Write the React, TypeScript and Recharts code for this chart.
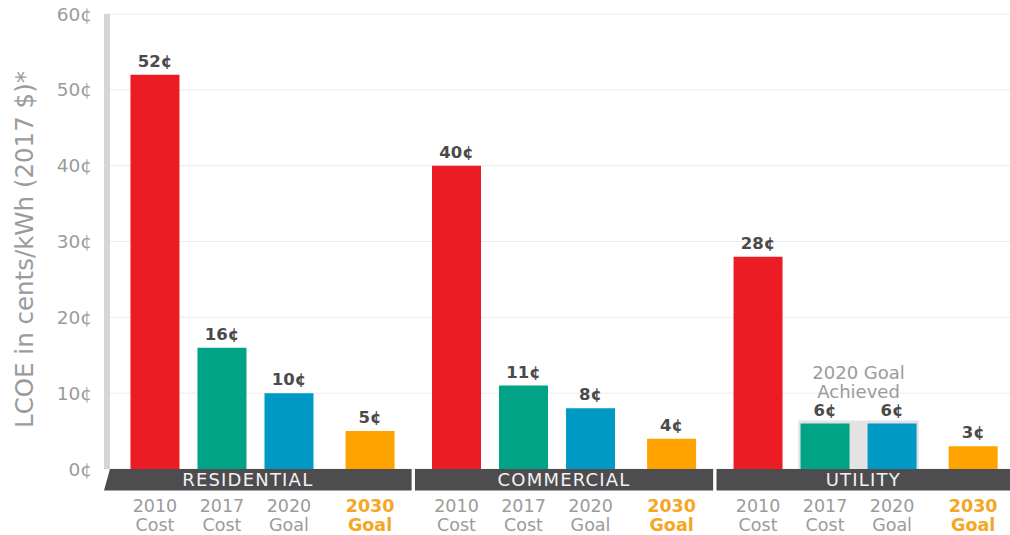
import * as React from "react";
import {
  BarChart,
  Bar,
  XAxis,
  YAxis,
  CartesianGrid,
  Cell,
  LabelList,
  ReferenceArea,
} from "recharts";

const groups = ["RESIDENTIAL", "COMMERCIAL", "UTILITY"];
const barYears = ["2010", "2017", "2020", "2030"];
const barKinds = ["Cost", "Cost", "Goal", "Goal"];
const residential = [52, 16, 10, 5];
const commercial = [40, 11, 8, 4];
const utility = [28, 6, 6, 3];
const yTicks = [0, 10, 20, 30, 40, 50, 60];

const COLORS = ["#ec1c24", "#00a386", "#0099c6", "#ffa300"];
const FONT = "'DejaVu Sans', sans-serif";
const GRAY = "#9b9b9b";

// slot layout: three bars side by side, the 2030 goal a bit apart
const SLOT = [0, 1, 2, 3.21];
const GROUP_STEP = 4.5;
const X_MIN = -0.716;
const X_MAX = 12.76;
const BAND_DEPTH = -2.85; // dark category band sits just under the zero line

const series = [residential, commercial, utility];
const data = series.flatMap((vals, gi) =>
  vals.map((v, i) => ({
    x: gi * GROUP_STEP + SLOT[i],
    value: v,
    slot: i,
    group: groups[gi],
  }))
);

const groupSpans = groups.map((g, gi) => {
  const gap = (GROUP_STEP - SLOT[3]) / 2;
  const start = gi === 0 ? X_MIN - 0.045 : gi * GROUP_STEP - gap + 0.025;
  const end = gi === groups.length - 1 ? X_MAX : gi * GROUP_STEP + SLOT[3] + gap - 0.025;
  return { name: g, start, end, labelDx: gi === 0 ? -10 : 0, slant: gi === 0 };
});

function XTick({ x, y, payload }: any) {
  const d = data.find((e) => Math.abs(e.x - payload.value) < 1e-6);
  if (!d) return null;
  const goal = d.slot === 3;
  return (
    <text
      x={x}
      y={y}
      textAnchor="middle"
      fontFamily={FONT}
      fontSize={17.5}
      fill={goal ? "#f5a623" : GRAY}
      fontWeight={goal ? 700 : 400}
    >
      <tspan x={x} dy={41}>
        {barYears[d.slot]}
      </tspan>
      <tspan x={x} dy={18.5}>
        {barKinds[d.slot]}
      </tspan>
    </text>
  );
}

function bandShape(name: string, dx: number, slant: boolean) {
  return (p: any) => {
    const { x, y, width, height } = p;
    const d = slant
      ? `M${x + 6},${y} L${x + width},${y} L${x + width},${y + height} L${x},${y + height} Z`
      : `M${x},${y} L${x + width},${y} L${x + width},${y + height} L${x},${y + height} Z`;
    return (
      <g>
        <path d={d} fill="#4d4d4f" />
        <text
          x={x + width / 2 + dx}
          y={y + height / 2 + 6.5}
          textAnchor="middle"
          fontFamily={FONT}
          fontSize={18}
          letterSpacing={1.2}
          fill="#f2f2f2"
        >
          {name}
        </text>
      </g>
    );
  };
}

function AchievedLabel({ viewBox }: any) {
  const cx = viewBox.x + viewBox.width / 2;
  return (
    <text textAnchor="middle" fontFamily={FONT} fontSize={18} fill={GRAY}>
      <tspan x={cx} y={viewBox.y - 41}>
        2020 Goal
      </tspan>
      <tspan x={cx} y={viewBox.y - 22}>
        Achieved
      </tspan>
    </text>
  );
}

function YLabel({ viewBox }: any) {
  const cx = viewBox.x + 33;
  const cy = viewBox.y + viewBox.height / 2 + 8;
  return (
    <text
      x={cx}
      y={cy}
      transform={`rotate(-90 ${cx} ${cy})`}
      textAnchor="middle"
      fontFamily={FONT}
      fontSize={24.5}
      fill={GRAY}
    >
      LCOE in cents/kWh (2017 $)*
    </text>
  );
}

export default function App() {
  return (
    <div style={{ position: "absolute", left: 0, top: 0, background: "#fff" }}>
      <BarChart
        width={1010}
        height={535}
        data={data}
        margin={{ top: 14, right: 0, left: 0, bottom: 0 }}
      >
        <CartesianGrid vertical={false} stroke="#ececec" />
        <XAxis
          type="number"
          dataKey="x"
          domain={[X_MIN, X_MAX]}
          allowDataOverflow
          ticks={data.map((d) => d.x)}
          tick={<XTick />}
          tickLine={false}
          axisLine={false}
          tickSize={0}
          height={66}
        />
        <YAxis
          domain={[0, 60]}
          ticks={yTicks}
          width={107}
          tickFormatter={(v) => `${v}¢`}
          tick={{ fontSize: 18.5, fill: GRAY, fontFamily: FONT }}
          tickLine={false}
          tickSize={0}
          tickMargin={15}
          axisLine={{ stroke: "#d6d6d6", strokeWidth: 6 }}
          label={<YLabel />}
        />
        <ReferenceArea
          x1={2 * GROUP_STEP + 0.6}
          x2={2 * GROUP_STEP + 2.4}
          y1={0}
          y2={6.4}
          fill="#e3e3e3"
          fillOpacity={1}
          stroke="none"
          label={<AchievedLabel />}
        />
        <Bar dataKey="value" barSize={49} isAnimationActive={false}>
          {data.map((d, i) => (
            <Cell key={i} fill={COLORS[d.slot]} />
          ))}
          <LabelList
            dataKey="value"
            position="top"
            offset={8}
            formatter={(v: any) => `${v}¢`}
            style={{ fontFamily: FONT, fontSize: 16.5, fontWeight: 700, fill: "#4a4a4a" }}
          />
        </Bar>
        {groupSpans.map((s) => (
          <ReferenceArea
            key={s.name}
            x1={s.start}
            x2={s.end}
            y1={BAND_DEPTH}
            y2={0}
            ifOverflow="visible"
            shape={bandShape(s.name, s.labelDx, s.slant)}
          />
        ))}
      </BarChart>
    </div>
  );
}
